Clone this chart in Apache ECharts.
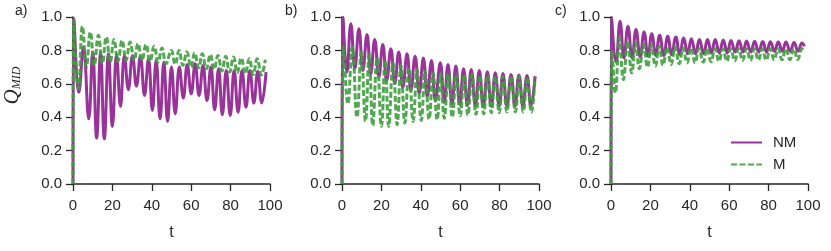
<!DOCTYPE html>
<html>
<head>
<meta charset="utf-8">
<script src="https://cdn.jsdelivr.net/npm/echarts@6/dist/echarts.min.js"></script>
<style>
html,body{margin:0;padding:0;background:#fff;}
#c{width:831px;height:251px;}
</style>
</head>
<body>
<div id="c"></div>
<script>
// ---- data (t, value) read at peaks/troughs ----
var panelLabels = ['a)', 'b)', 'c)'];
var xTicks = [0, 20, 40, 60, 80, 100];
var yTicks = [0.0, 0.2, 0.4, 0.6, 0.8, 1.0];
var seriesNames = ['NM', 'M'];

var tA_NM = [0,0.5,3.0,5.3,8.0,10.0,12.0,14.0,15.9,18.0,20.0,22.1,24.1,26.1,28.1,30.2,32.2,34.2,36.3,38.3,40.3,42.2,44.2,46.1,48.0,50.0,51.9,54.0,56.0,58.0,60.0,62.0,64.0,66.0,68.0,70.0,71.9,73.9,75.8,77.8,79.8,81.8,83.8,85.8,87.8,89.8,91.8,93.8,95.8,98.0];
var vA_NM = [0,0.99,0.55,0.82,0.39,0.79,0.275,0.785,0.27,0.78,0.345,0.775,0.465,0.77,0.565,0.77,0.585,0.765,0.53,0.75,0.44,0.74,0.39,0.73,0.375,0.70,0.42,0.70,0.515,0.715,0.54,0.72,0.53,0.71,0.50,0.70,0.445,0.69,0.415,0.68,0.41,0.68,0.43,0.68,0.46,0.68,0.485,0.675,0.485,0.67];

var tA_M = [0,0.4,2.8,4.8,6.8,8.8,10.8,12.9,14.9,16.9,18.9,20.8,22.8,24.9,26.9,29.0,31.0,33.0,35.0,37.1,39.1,41.2,43.2,45.2,47.2,49.9,51.9,53.8,55.8,57.8,59.9,61.7,63.8,65.6,67.7,69.7,71.6,73.6,75.6,77.5,79.5,81.5,83.4,85.4,87.5,89.5,91.5,93.5,95.6,97.6];
var vA_M = [0,0.98,0.57,0.945,0.70,0.91,0.71,0.89,0.72,0.88,0.73,0.865,0.735,0.86,0.74,0.85,0.74,0.84,0.74,0.835,0.735,0.825,0.73,0.815,0.72,0.80,0.716,0.80,0.71,0.79,0.70,0.785,0.696,0.78,0.69,0.775,0.686,0.77,0.676,0.765,0.67,0.76,0.666,0.755,0.66,0.75,0.656,0.75,0.652,0.745];

var tB_NM = [0,0.5,2.5,4.5,6.5,8.6,10.6,12.7,14.6,16.6,18.7,20.7,22.7,24.8,26.8,28.8,30.9,33.0,35.0,37.1,39.2,41.3,43.3,45.4,47.4,49.9,51.9,53.8,55.8,57.8,59.8,61.7,63.7,65.6,67.7,69.7,71.7,73.8,75.8,77.8,79.8,81.7,83.7,85.8,87.8,89.8,91.8,93.9,95.9,98.0];
var vB_NM = [0,1.0,0.67,0.96,0.69,0.93,0.68,0.895,0.66,0.865,0.64,0.835,0.62,0.81,0.60,0.79,0.58,0.78,0.56,0.765,0.545,0.755,0.525,0.74,0.50,0.726,0.49,0.716,0.48,0.706,0.475,0.69,0.47,0.686,0.47,0.68,0.465,0.672,0.465,0.666,0.465,0.662,0.465,0.656,0.465,0.652,0.465,0.65,0.465,0.646];

var tB_M = [0,0.8,3.0,5.2,7.6,9.8,11.9,13.8,15.6,17.8,20.0,21.9,23.7,25.9,28.0,29.9,31.9,34.0,36.1,38.1,40.2,42.2,44.2,46.2,48.3,50.1,51.9,54.0,56.0,58.0,60.0,62.0,63.9,66.0,68.0,70.0,71.9,73.9,75.8,77.8,79.8,81.7,83.7,85.9,88.0,90.0,92.0,94.0,96.1,98.0];
var vB_M = [0,0.82,0.48,0.82,0.40,0.79,0.375,0.775,0.35,0.755,0.345,0.74,0.345,0.725,0.355,0.71,0.365,0.695,0.375,0.685,0.38,0.675,0.388,0.665,0.385,0.66,0.394,0.66,0.40,0.66,0.408,0.655,0.413,0.655,0.417,0.65,0.42,0.65,0.427,0.645,0.427,0.645,0.431,0.645,0.431,0.645,0.431,0.64,0.43,0.64];

var tC_NM = [0,0.3,2.6,4.6,6.6,8.6,10.7,12.7,14.8,16.8,18.8,20.7,22.7,24.7,26.8,28.8,30.8,32.9,34.9,36.9,38.9,40.8,42.9,44.9,47.0,49.0,51.0,52.9,55.0,57.0,59.0,60.9,63.0,65.0,67.0,68.8,71.0,72.9,75.0,77.0,79.0,80.9,83.0,84.9,87.0,88.8,91.0,92.9,95.0,96.9,98.2];
var vC_NM = [0,1.0,0.73,0.974,0.755,0.944,0.755,0.925,0.76,0.91,0.765,0.90,0.77,0.89,0.77,0.885,0.775,0.88,0.775,0.875,0.78,0.87,0.78,0.865,0.78,0.865,0.785,0.865,0.785,0.862,0.785,0.86,0.79,0.858,0.79,0.856,0.79,0.855,0.79,0.853,0.79,0.852,0.795,0.85,0.795,0.85,0.795,0.848,0.795,0.845,0.825];

var tC_M = [0,0.6,2.2,4.3,6.3,8.5,10.5,12.5,14.4,16.5,18.5,20.5,22.5,24.5,26.4,28.5,30.5,32.6,34.6,36.6,38.6,40.7,42.7,44.7,46.8,48.8,50.8,52.8,54.8,56.8,58.8,60.8,62.8,64.8,66.8,68.8,70.8,72.8,74.8,76.8,78.8,80.8,82.8,84.8,86.8,88.8,90.8,92.8,94.8,97.0,98.2];
var vC_M = [0,0.80,0.545,0.875,0.625,0.855,0.665,0.845,0.69,0.835,0.70,0.83,0.706,0.825,0.712,0.82,0.716,0.82,0.72,0.815,0.726,0.815,0.726,0.812,0.73,0.812,0.732,0.81,0.735,0.81,0.736,0.81,0.738,0.81,0.74,0.81,0.74,0.81,0.742,0.81,0.742,0.81,0.744,0.81,0.744,0.81,0.745,0.81,0.745,0.81,0.80];

function pairs(t, v) { return t.map(function (x, i) { return [x, v[i]]; }); }

var panels = [
  { nm: pairs(tA_NM, vA_NM), m: pairs(tA_M, vA_M) },
  { nm: pairs(tB_NM, vB_NM), m: pairs(tB_M, vB_M) },
  { nm: pairs(tC_NM, vC_NM), m: pairs(tC_M, vC_M) }
];

var PURPLE = '#993399';
var GREEN = '#3d9e3d';
var TXT = '#262626';
var FONT = 'Liberation Sans';
var lefts = [73, 342, 611];

var grids = [], xAxes = [], yAxes = [], series = [], graphics = [];
lefts.forEach(function (l, i) {
  grids.push({ left: l, top: 17, width: 197, height: 167 });
  xAxes.push({
    type: 'value', gridIndex: i, min: 0, max: 100, interval: 20,
    name: 't', nameLocation: 'middle', nameGap: 41,
    nameTextStyle: { color: TXT, fontSize: 16, fontFamily: FONT },
    axisLine: { show: true, lineStyle: { color: TXT, width: 1.5 } },
    axisTick: { show: true, length: 7, lineStyle: { color: TXT, width: 1.3 } },
    axisLabel: { color: TXT, fontSize: 15, fontFamily: FONT, margin: 14 },
    splitLine: { show: false }
  });
  var ya = {
    type: 'value', gridIndex: i, min: 0, max: 1, interval: 0.2,
    axisLine: { show: true, lineStyle: { color: TXT, width: 1.5 } },
    axisTick: { show: true, length: 7, lineStyle: { color: TXT, width: 1.3 } },
    axisLabel: { color: TXT, fontSize: 15, fontFamily: FONT, margin: 11,
      formatter: function (v) { return v.toFixed(1); } },
    splitLine: { show: false }
  };
  if (i === 0) {
    ya.name = '{q|Q}{s|MID}';
    ya.nameLocation = 'middle';
    ya.nameGap = 50;
    ya.nameTextStyle = {
      color: TXT,
      padding: [0, 0, 0, 30],
      rich: {
        q: { fontSize: 21, fontStyle: 'italic', fontFamily: 'Liberation Serif', color: TXT },
        s: { fontSize: 12, fontStyle: 'italic', fontFamily: 'Liberation Serif', color: TXT, verticalAlign: 'bottom', padding: [7, 0, 0, 0] }
      }
    };
  }
  yAxes.push(ya);
  series.push({
    name: seriesNames[0], type: 'line', xAxisIndex: i, yAxisIndex: i,
    data: panels[i].nm, symbol: 'none', smooth: 0.45, color: PURPLE,
    lineStyle: { color: PURPLE, width: 3 }, z: 2
  });
  series.push({
    name: seriesNames[1], type: 'line', xAxisIndex: i, yAxisIndex: i,
    data: panels[i].m, symbol: 'none', smooth: 0.45, color: GREEN,
    lineStyle: { color: GREEN, width: 3, type: [6, 2.5], opacity: 0.9 }, z: 3
  });
  graphics.push({
    type: 'text', left: [15, 285, 555][i], top: 4,
    style: { text: panelLabels[i], fill: TXT, font: '14px "Liberation Sans"' }
  });
});

var chart = echarts.init(document.getElementById('c'), null, { renderer: 'canvas' });
chart.setOption({
  animation: false,
  backgroundColor: '#fff',
  grid: grids, xAxis: xAxes, yAxis: yAxes, series: series,
  graphic: graphics,
  legend: {
    data: seriesNames, orient: 'vertical', left: 725, top: 130,
    padding: 5,
    itemWidth: 31, itemHeight: 14, itemGap: 7,
    itemStyle: { opacity: 0 },
    textStyle: { color: TXT, fontSize: 15, fontFamily: FONT, padding: [0, 0, 0, 6] }
  }
});
</script>
</body>
</html>
